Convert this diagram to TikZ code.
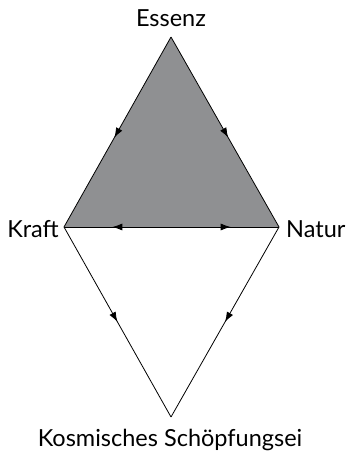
\documentclass[tikz,border=0pt]{standalone}
\usepackage{fontspec}
\setmainfont{Lato}
\usetikzlibrary{decorations.markings,arrows.meta}
\definecolor{tri}{RGB}{143,144,146}
\tikzset{
  edge/.style={draw=black,line width=0.8pt},
  midarrow/.style={postaction={decorate},decoration={markings,mark=at position #1 with {\arrow{Latex[length=10pt,width=7pt]}}}},
  lbl/.style={font=\fontsize{23.5}{28}\selectfont,inner sep=0pt}
}
\begin{document}
\begin{tikzpicture}[x=1pt,y=-1pt]
\useasboundingbox (0,0) rectangle (353,452);
\coordinate (E) at (171,37);
\coordinate (K) at (64,227);
\coordinate (N) at (279,227);
\coordinate (S) at (171,417);
\fill[tri] (E) -- (K) -- (N) -- cycle;
\draw[edge,midarrow=0.53] (E) -- (K);
\draw[edge,midarrow=0.53] (E) -- (N);
\draw[edge,midarrow=0.5] (K) -- (S);
\draw[edge,midarrow=0.5] (N) -- (S);
\coordinate (M) at (171.5,227);
\draw[edge,midarrow=0.55] (M) -- (K);
\draw[edge,midarrow=0.55] (M) -- (N);
\node[lbl,anchor=base] (essenz) at (171,27) {Essenz};
\node[lbl,anchor=base east] (kraft) at (59,237) {Kraft};
\node[lbl,anchor=base west] (natur) at (286,237) {Natur};
\node[lbl,anchor=base] (ei) at (170,446) {Kosmisches Schöpfungsei};
\end{tikzpicture}
\end{document}
